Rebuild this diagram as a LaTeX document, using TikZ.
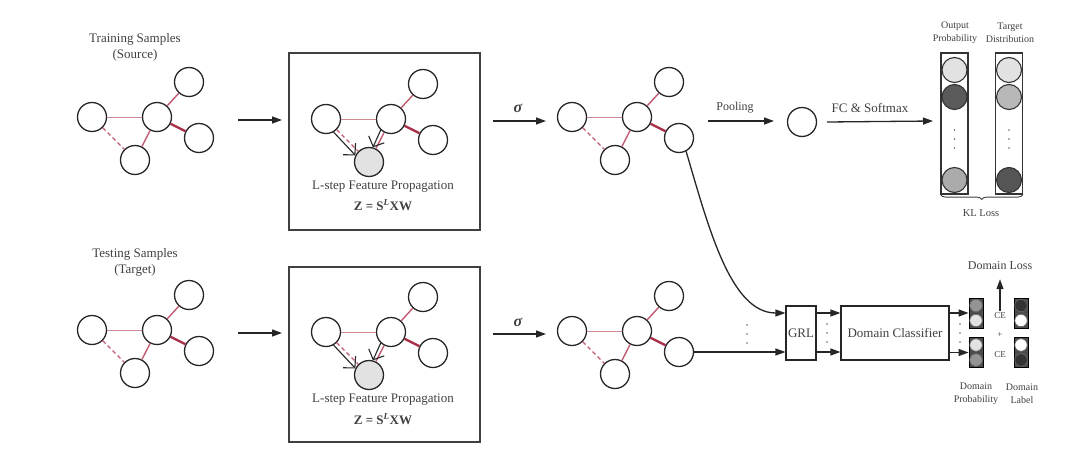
\documentclass[tikz,border=0pt]{standalone}
\usepackage{fontspec}
\setmainfont{Liberation Serif}
\usetikzlibrary{arrows.meta,decorations.pathreplacing,calc}
\definecolor{txt}{HTML}{404040}
\definecolor{pinkA}{HTML}{D08A96}
\definecolor{pinkB}{HTML}{C25A70}
\definecolor{pinkC}{HTML}{A83048}
\definecolor{lightg}{HTML}{E2E2E2}
\definecolor{midg}{HTML}{ABABAB}
\definecolor{darkg}{HTML}{5A5A5A}
\tikzset{
 gn/.style={circle,draw=black!85,line width=1.3pt,minimum size=29pt,inner sep=0pt,fill=white},
 ethin/.style={draw=pinkA,line width=1pt},
 emid/.style={draw=pinkB,line width=1.4pt},
 ethick/.style={draw=pinkC,line width=2.4pt},
 edash/.style={draw=pinkB,line width=1.4pt,dash pattern=on 4pt off 3pt},
 arr/.style={draw=black!85,line width=1.3pt,-{Triangle[length=10pt,width=7pt]}},
 parr/.style={draw=black!85,line width=1.1pt,-{Straight Barb[length=8pt,width=17pt]}},
 lbl/.style={text=txt,font=\fontsize{13}{16}\selectfont,align=center,inner sep=0pt},
 slbl/.style={text=txt,font=\fontsize{10}{13}\selectfont,align=center,inner sep=0pt},
 pbox/.style={draw=black!75,line width=1.2pt,minimum width=191pt,minimum height=177pt,inner sep=0pt},
 col/.style={draw=black!80,line width=1.1pt,minimum width=27pt,minimum height=141pt,inner sep=0pt},
 ccirc/.style={circle,draw=black!80,line width=1.1pt,minimum size=25pt,inner sep=0pt},
 dbox/.style={draw=black,fill=black!70,line width=0.8pt,minimum width=14pt,minimum height=30pt,inner sep=0pt},
 dcirc/.style={circle,draw=black!60,line width=0.7pt,minimum size=12.5pt,inner sep=0pt},
 blk/.style={draw=black!85,line width=1.2pt,minimum height=54pt,inner sep=0pt,text=txt,font=\fontsize{13}{16}\selectfont},
 dotn/.style={circle,fill=black!60,minimum size=1.8pt,inner sep=0pt},
}
\newcommand\mygraph[4]{%
 \node[gn] (#1c) at (#2,#3) {};
 \node[gn] (#1l) at (#2-65,#3) {};
 \node[gn] (#1t) at (#2+32,#3-35) {};
 \node[gn] (#1r) at (#2+42,#3+21) {};
 \node[gn,fill=#4] (#1b) at (#2-22,#3+43) {};
 \draw[ethin] (#1l) -- (#1c);
 \draw[edash] (#1l) -- (#1b);
 \draw[emid] (#1c) -- (#1t);
 \draw[ethick] (#1c) -- (#1r);
 \draw[emid] (#1c) -- (#1b);
}
\newcommand\mydots[3]{%
 \node[dotn] (#1a) at (#2,#3-9) {};
 \node[dotn] (#1b) at (#2,#3) {};
 \node[dotn] (#1c) at (#2,#3+9) {};
}
\begin{document}
\begin{tikzpicture}[x=1pt,y=-1pt]
\useasboundingbox (0,0) rectangle (1080,466);
% ---------- top row ----------
\node[lbl] (ttl1) at (135,47) {Training Samples\\(Source)};
\mygraph{a}{157}{117}{white}
\coordinate (a1s) at (238,120);
\coordinate (a1e) at (282,120);
\draw[arr] (a1s) -- (a1e);
\node[pbox] (box1) at (384.5,141.5) {};
\mygraph{p}{391}{119}{lightg}
\draw[parr] (pl.-60) -- (pb.154);
\draw[parr] (pc.-133) -- (pb.75);
\node[lbl] (lst1) at (383,187) {L-step Feature Propagation};
\node[lbl] (eq1) at (383,205) {\textbf{Z = S\textsuperscript{\textit{L}}XW}};
\coordinate (s1s) at (493,121);
\coordinate (s1e) at (546,121);
\draw[arr] (s1s) -- (s1e);
\node[lbl,font=\fontsize{16}{16}\selectfont\bfseries\itshape] (sg1) at (518,108) {σ};
\mygraph{g}{637}{117}{white}
\coordinate (pl1s) at (708,121);
\coordinate (pl1e) at (774,121);
\draw[arr] (pl1s) -- (pl1e);
\node[lbl,font=\fontsize{12}{14}\selectfont] (pool) at (735,108) {Pooling};
\node[gn] (pooled) at (802,122) {};
\coordinate (fce) at (933,121);
\draw[arr] ([xshift=10pt]pooled.east) -- (fce);
\node[lbl] (fc) at (870,108) {FC \& Softmax};
% output columns
\node[col] (oc) at (954.5,123.5) {};
\node[col] (tc) at (1009,123.5) {};
\node[ccirc,fill=lightg] (o1) at (954.5,70) {};
\node[ccirc,fill=darkg] (o2) at (954.5,97) {};
\node[ccirc,fill=midg] (o3) at (954.5,180) {};
\node[ccirc,fill=lightg] (t1) at (1009,70) {};
\node[ccirc,fill=midg!85] (t2) at (1009,97) {};
\node[ccirc,fill=darkg!95!black] (t3) at (1009,180) {};
\mydots{od}{954.5}{139}
\mydots{td}{1009}{139}
\node[slbl] (olab) at (955,32.5) {Output\\Probability};
\node[slbl] (tlab) at (1010,32.5) {Target\\Distribution};
\draw[draw=black!75,line width=0.9pt,decorate,decoration={brace,mirror,amplitude=5pt}] (oc.south west) -- (tc.south east);
\node[slbl,font=\fontsize{10.5}{13}\selectfont] (kl) at (981,213) {KL Loss};
% ---------- bottom row ----------
\node[lbl] (ttl2) at (135,262) {Testing Samples\\(Target)};
\mygraph{b}{157}{330}{white}
\coordinate (a2s) at (238,333);
\coordinate (a2e) at (282,333);
\draw[arr] (a2s) -- (a2e);
\node[pbox,minimum height=175pt] (box2) at (384.5,354.5) {};
\mygraph{q}{391}{332}{lightg}
\draw[parr] (ql.-60) -- (qb.154);
\draw[parr] (qc.-133) -- (qb.75);
\node[lbl] (lst2) at (383,400) {L-step Feature Propagation};
\node[lbl] (eq2) at (383,419) {\textbf{Z = S\textsuperscript{\textit{L}}XW}};
\coordinate (s2s) at (493,334);
\coordinate (s2e) at (546,334);
\draw[arr] (s2s) -- (s2e);
\node[lbl,font=\fontsize{16}{16}\selectfont\bfseries\itshape] (sg2) at (518,322) {σ};
\mygraph{h}{637}{331}{white}
% ---------- domain classifier part ----------
\node[blk,minimum width=30pt] (grl) at (801,333) {GRL};
\node[blk,minimum width=108pt] (dc) at (895,333) {Domain Classifier};
\coordinate (gi1) at (grl.west |- 0,313);
\coordinate (gi2) at (grl.west |- 0,352);
\draw[arr] (gr.-62) .. controls (708,225) and (730,313) .. (gi1);
\draw[arr] (hr.east) -- (gi2);
\mydots{md}{747}{334}
\draw[arr] (grl.east |- gi1) -- (dc.west |- gi1);
\draw[arr] (grl.east |- gi2) -- (dc.west |- gi2);
\mydots{gd}{827}{333}
\node[dbox] (dp1) at (976,313) {};
\node[dbox] (dp2) at (976,352.5) {};
\node[dcirc,fill=black!42] (dp1u) at (976,305.5) {};
\node[dcirc,fill=lightg] (dp1d) at (976,320.5) {};
\node[dcirc,fill=lightg] (dp2u) at (976,345) {};
\node[dcirc,fill=black!42] (dp2d) at (976,360) {};
\draw[arr] (dc.east |- dp1) -- (dp1.west);
\draw[arr] (dc.east |- dp2) -- (dp2.west);
\mydots{dd}{960}{333}
\node[dbox] (dl1) at (1021,313) {};
\node[dbox] (dl2) at (1021,352.5) {};
\node[dcirc,fill=black!80] (dl1u) at (1021,305.5) {};
\node[dcirc,fill=white] (dl1d) at (1021,320.5) {};
\node[dcirc,fill=white] (dl2u) at (1021,345) {};
\node[dcirc,fill=black!80] (dl2d) at (1021,360) {};
\node[slbl,font=\fontsize{9}{10}\selectfont] (ce1) at (1000,316) {CE};
\node[slbl,font=\fontsize{9}{10}\selectfont] (plus) at (1000,335) {+};
\node[slbl,font=\fontsize{9}{10}\selectfont] (ce2) at (1000,355) {CE};
\node[slbl,font=\fontsize{12}{14}\selectfont] (dloss) at (1000,266) {Domain Loss};
\draw[arr] ([yshift=2pt]ce1.north) -- ([yshift=-9pt]dloss.south);
\node[slbl] (dpl) at (976,393.5) {Domain\\Probability};
\node[slbl] (dll) at (1022,393.5) {Domain\\Label};
\end{tikzpicture}
\end{document}
